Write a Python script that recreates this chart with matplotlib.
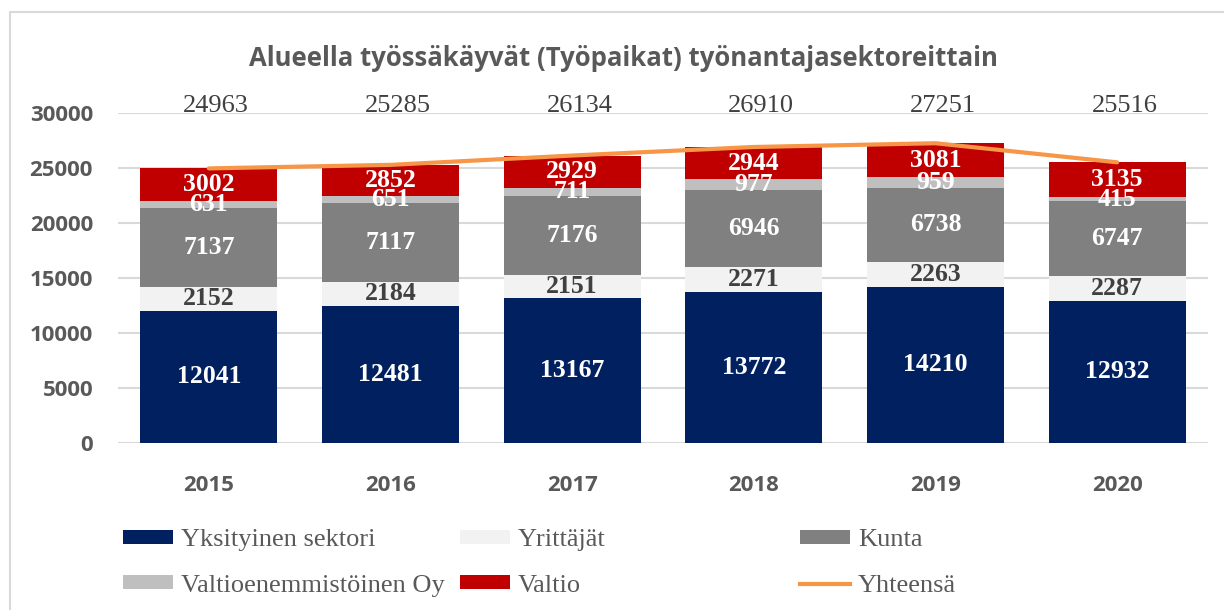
import numpy as np
import matplotlib.pyplot as plt
from matplotlib.patches import Patch, Rectangle
from matplotlib.lines import Line2D

years = ['2015', '2016', '2017', '2018', '2019', '2020']
yksityinen = [12041, 12481, 13167, 13772, 14210, 12932]
yrittajat = [2152, 2184, 2151, 2271, 2263, 2287]
kunta = [7137, 7117, 7176, 6946, 6738, 6747]
valtioenemm = [631, 651, 711, 977, 959, 415]
valtio = [3002, 2852, 2929, 2944, 3081, 3135]
yhteensa = [24963, 25285, 26134, 26910, 27251, 25516]

names = ['Yksityinen sektori', 'Yrittäjät', 'Kunta', 'Valtioenemmistöinen Oy', 'Valtio']
series = [yksityinen, yrittajat, kunta, valtioenemm, valtio]
colors = ['#002060', '#f2f2f2', '#808080', '#bfbfbf', '#c00000']
label_colors = ['white', '#404040', 'white', 'white', 'white']
line_color = '#f79646'

serif = ['Liberation Serif', 'DejaVu Serif']
sans = ['Open Sans', 'DejaVu Sans']
gray = '#595959'

fig = plt.figure(figsize=(12.24, 6.10), dpi=100)
ax = fig.add_axes([118/1224, (610-443)/610, 1090/1224, 330/610])

x = np.arange(len(years))
bottom = np.zeros(len(years))
handles = []
for name, vals, c, lc in zip(names, series, colors, label_colors):
    bars = ax.bar(x, vals, 0.755, bottom=bottom, color=c, zorder=2)
    ax.bar_label(bars, labels=[str(v) for v in vals], label_type='center',
                 color=lc, fontsize=18.5, fontfamily=serif, fontweight='bold')
    bottom += np.array(vals)
    handles.append(Patch(facecolor=c, label=name))

ax.plot(x, yhteensa, color=line_color, lw=3, zorder=3, solid_capstyle='round')
handles.append(Line2D([], [], color=line_color, lw=3, label='Yhteensä'))

for xi, v in zip(x, yhteensa):
    ax.text(xi + 0.04, 30600, str(v), ha='center', va='center', fontsize=19,
            fontfamily=serif, color='#404040', clip_on=False)

ax.set_xlim(-0.5, len(years) - 0.5)
ax.set_ylim(0, 30000)
ax.set_yticks(range(0, 30001, 5000))
ax.set_xticks(x)
ax.set_xticklabels(years)
for lab in ax.get_xticklabels() + ax.get_yticklabels():
    lab.set_fontfamily(sans)
    lab.set_fontweight('bold')
    lab.set_fontsize(16)
    lab.set_color(gray)
ax.tick_params(axis='y', length=0, pad=18)
ax.tick_params(axis='x', length=0, pad=23)
ax.grid(axis='y', color='#d9d9d9', lw=1.5, zorder=0)
ax.set_axisbelow(True)
for s in ax.spines.values():
    s.set_visible(False)

fig.text(623/1224, (610-59)/610, 'Alueella työssäkäyvät (Työpaikat) työnantajasektoreittain',
         ha='center', va='center', fontsize=18.5, fontweight='bold', fontfamily=sans, color=gray)

# legend in three columns, placed by hand like the original
cols = [(123, [handles[0], handles[3]]), (460, [handles[1], handles[4]]), (800, [handles[2], handles[5]])]
for xpos, hs in cols:
    fig.legend(handles=hs, loc='upper left', bbox_to_anchor=(xpos/1224, (610-529)/610),
               frameon=False, borderpad=0, borderaxespad=0,
               prop={'family': serif, 'size': 19}, labelcolor=gray,
               handlelength=1.9, handleheight=0.45, handletextpad=0.3, labelspacing=0.9)

fig.patches.append(Rectangle((10/1224, -0.1), 1.2, (610-12)/610 + 0.1, transform=fig.transFigure,
                             fill=False, edgecolor='#d9d9d9', lw=1.5))

fig.savefig('out.png', dpi=100)
